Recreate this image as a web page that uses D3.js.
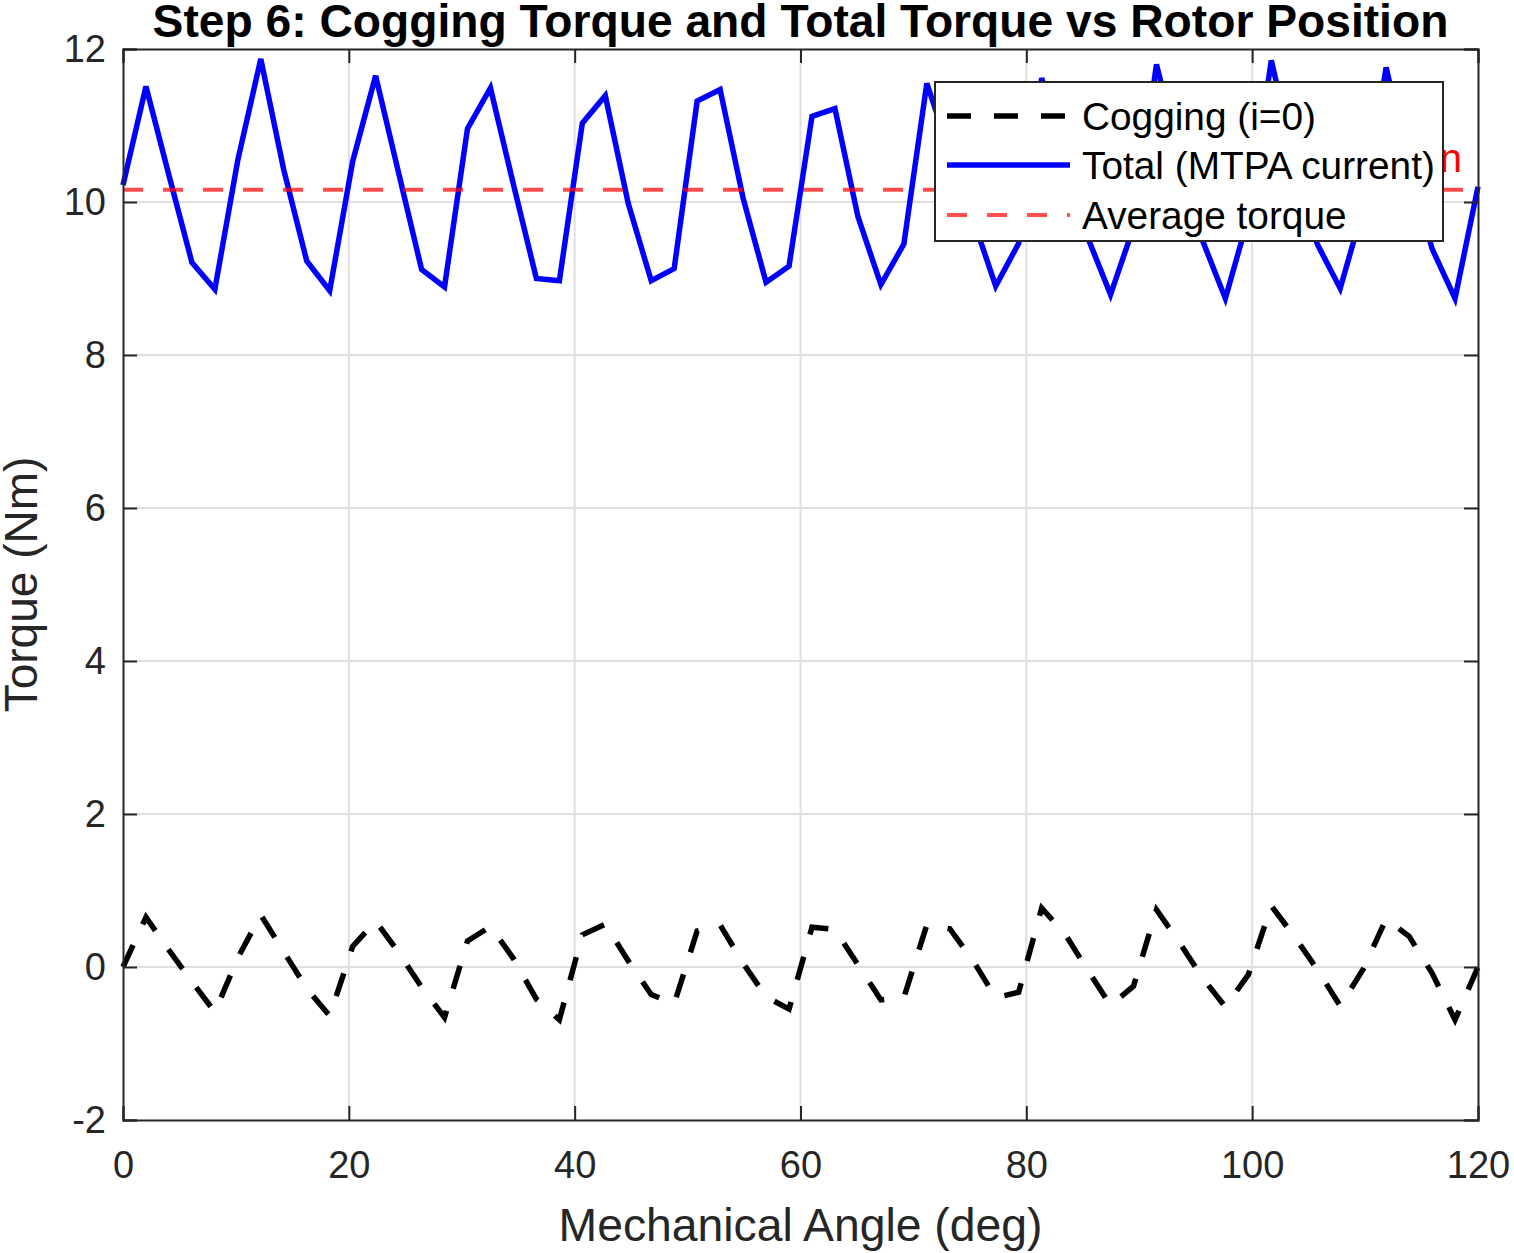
<!DOCTYPE html>
<html lang="en">
<head>
<meta charset="utf-8">
<title>Cogging Torque and Total Torque</title>
<script src="https://cdn.jsdelivr.net/npm/d3@7"></script>
<style>
  body { margin: 0; background: #fff; }
  svg text { font-family: "Liberation Sans", Arial, Helvetica, sans-serif; fill: #262626; }
</style>
</head>
<body>
<div id="chart"></div>
<script>
// rotor position samples (deg)
const angle = [0, 2.034, 4.068, 6.102, 8.136, 10.169, 12.203, 14.237, 16.271, 18.305,
  20.339, 22.373, 24.407, 26.441, 28.475, 30.508, 32.542, 34.576, 36.610, 38.644,
  40.678, 42.712, 44.746, 46.780, 48.814, 50.847, 52.881, 54.915, 56.949, 58.983,
  61.017, 63.051, 65.085, 67.119, 69.153, 71.186, 73.220, 75.254, 77.288, 79.322,
  81.356, 83.390, 85.424, 87.458, 89.492, 91.525, 93.559, 95.593, 97.627, 99.661,
  101.695, 103.729, 105.763, 107.797, 109.831, 111.864, 113.898, 115.932, 117.966, 120];

// cogging torque, i = 0 (Nm)
const cogging = [0.00, 0.65, 0.22, -0.19, -0.59, 0.12, 0.68, 0.20, -0.28, -0.64,
  0.27, 0.60, 0.19, -0.26, -0.66, 0.34, 0.53, 0.11, -0.42, -0.69,
  0.42, 0.56, 0.08, -0.36, -0.48, 0.47, 0.55, 0.05, -0.39, -0.55,
  0.52, 0.49, 0.03, -0.43, -0.40, 0.55, 0.50, 0.09, -0.40, -0.33,
  0.77, 0.44, -0.04, -0.50, -0.25, 0.75, 0.32, -0.14, -0.52, -0.10,
  0.80, 0.40, -0.03, -0.51, -0.03, 0.63, 0.40, -0.08, -0.69, 0.00];

// total torque with MTPA current (Nm)
const total = [10.22, 11.51, 10.35, 9.21, 8.86, 10.55, 11.87, 10.42, 9.23, 8.84,
  10.53, 11.65, 10.38, 9.12, 8.89, 10.96, 11.49, 10.23, 9.00, 8.97,
  11.03, 11.39, 9.98, 8.97, 9.13, 11.32, 11.47, 10.05, 8.95, 9.16,
  11.12, 11.22, 9.81, 8.92, 9.45, 11.55, 10.65, 9.79, 8.90, 9.46,
  11.62, 10.60, 9.54, 8.79, 9.67, 11.80, 10.60, 9.50, 8.74, 9.80,
  11.85, 10.55, 9.45, 8.87, 9.92, 11.76, 10.45, 9.39, 8.74, 10.20];

const avgTorque = 10.16;

const xTicks = [0, 20, 40, 60, 80, 100, 120];
const yTicks = [-2, 0, 2, 4, 6, 8, 10, 12];

const legendLabels = ["Cogging (i=0)", "Total (MTPA current)", "Average torque"];
const titleText = "Step 6: Cogging Torque and Total Torque vs Rotor Position";
const xLabel = "Mechanical Angle (deg)";
const yLabel = "Torque (Nm)";
const noteText = "Ripple = 30.6% of mean";

const w = 1514, h = 1253;
const padL = 123, padR = 1478, padT = 49, padB = 1120;

const svg = d3.select("#chart").append("svg")
  .attr("width", w)
  .attr("height", h);

svg.append("rect").attr("width", w).attr("height", h).attr("fill", "#fff");

const x = d3.scaleLinear().domain([0, 120]).range([padL, padR]);
const y = d3.scaleLinear().domain([-2, 12]).range([padB, padT]);

// grid
svg.append("g").selectAll("line")
  .data(xTicks.slice(1, -1))
  .enter().append("line")
    .attr("x1", d => x(d)).attr("x2", d => x(d))
    .attr("y1", padT).attr("y2", padB)
    .attr("stroke", "#dfdfdf").attr("stroke-width", 2);

svg.append("g").selectAll("line")
  .data(yTicks.slice(1, -1))
  .enter().append("line")
    .attr("x1", padL).attr("x2", padR)
    .attr("y1", d => y(d)).attr("y2", d => y(d))
    .attr("stroke", "#dfdfdf").attr("stroke-width", 2);

const line = (vals) => d3.line()
  .x((d, i) => x(angle[i]))
  .y(d => y(d))(vals);

svg.append("path")
  .attr("d", line(cogging))
  .attr("fill", "none")
  .attr("stroke", "#000")
  .attr("stroke-width", 5.5)
  .attr("stroke-dasharray", "24,23");

svg.append("path")
  .attr("d", line(total))
  .attr("fill", "none")
  .attr("stroke", "#0000ff")
  .attr("stroke-width", 5.5)
  .attr("stroke-linejoin", "miter");

svg.append("line")
  .attr("x1", x(0)).attr("x2", x(120))
  .attr("y1", y(avgTorque)).attr("y2", y(avgTorque))
  .attr("stroke", "#ff0000")
  .attr("stroke-opacity", 0.7)
  .attr("stroke-width", 4)
  .attr("stroke-dasharray", "20,20");

svg.append("text")
  .attr("x", 1462).attr("y", 172)
  .attr("text-anchor", "end")
  .attr("font-size", 40)
  .style("fill", "#ff0000")
  .text(noteText);

// axes, ticks inside, box on
const tickLen = 14;
const fmt = d => String(d);
const xAxis = d3.axisBottom(x).tickValues(xTicks).tickSize(-tickLen).tickPadding(31).tickFormat(fmt);
const yAxis = d3.axisLeft(y).tickValues(yTicks).tickSize(-tickLen).tickPadding(17).tickFormat(fmt);

svg.append("g").attr("transform", `translate(0,${padB})`).call(xAxis);
svg.append("g").attr("transform", `translate(${padL},0)`).call(yAxis);
svg.append("g").attr("transform", `translate(0,${padT})`)
  .call(d3.axisTop(x).tickValues(xTicks).tickSize(-tickLen).tickFormat(""));
svg.append("g").attr("transform", `translate(${padR},0)`)
  .call(d3.axisRight(y).tickValues(yTicks).tickSize(-tickLen).tickFormat(""));

svg.selectAll(".domain").attr("stroke", "#262626").attr("stroke-width", 2);
svg.selectAll(".tick line").attr("stroke", "#262626").attr("stroke-width", 2);
svg.selectAll(".tick text")
  .attr("font-size", 38)
  .attr("font-family", "Liberation Sans, Arial, sans-serif")
  .style("fill", "#262626");

// legend
const lg = svg.append("g");
lg.append("rect")
  .attr("x", 935).attr("y", 82)
  .attr("width", 508).attr("height", 159)
  .attr("fill", "#fff")
  .attr("stroke", "#262626")
  .attr("stroke-width", 2);

const legendStyles = [
  { color: "#000", width: 5.5, dash: "24,23", opacity: 1 },
  { color: "#0000ff", width: 5.5, dash: null, opacity: 1 },
  { color: "#ff0000", width: 4, dash: "20,20", opacity: 0.7 }
];
const legendY = [116, 165, 215];

legendLabels.forEach((lab, i) => {
  const s = legendStyles[i];
  lg.append("line")
    .attr("x1", 947).attr("x2", 1070)
    .attr("y1", legendY[i]).attr("y2", legendY[i])
    .attr("stroke", s.color)
    .attr("stroke-opacity", s.opacity)
    .attr("stroke-width", s.width)
    .attr("stroke-dasharray", s.dash);
  lg.append("text")
    .attr("x", 1082).attr("y", legendY[i])
    .attr("dy", "0.35em")
    .attr("font-size", 38.8)
    .style("fill", "#000")
    .text(lab);
});

// title and labels
svg.append("text")
  .attr("x", (padL + padR) / 2).attr("y", 37)
  .attr("text-anchor", "middle")
  .attr("font-size", 46.2)
  .attr("font-weight", "bold")
  .style("fill", "#000")
  .text(titleText);

svg.append("text")
  .attr("x", (padL + padR) / 2).attr("y", 1241)
  .attr("text-anchor", "middle")
  .attr("font-size", 46.3)
  .text(xLabel);

svg.append("text")
  .attr("transform", `translate(37,${(padT + padB) / 2}) rotate(-90)`)
  .attr("text-anchor", "middle")
  .attr("font-size", 46)
  .text(yLabel);
</script>
</body>
</html>
